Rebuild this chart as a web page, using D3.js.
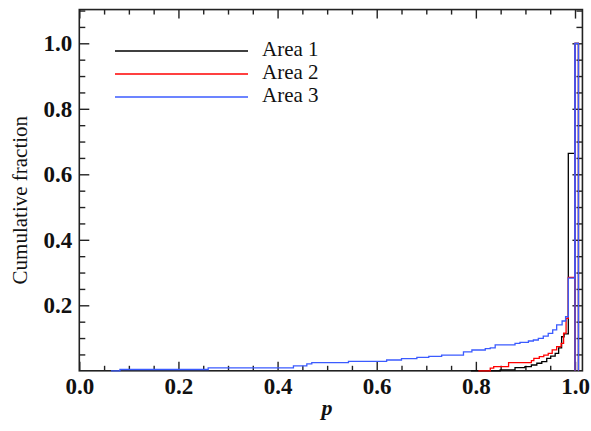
<!DOCTYPE html>
<html>
<head>
<meta charset="utf-8">
<script src="https://cdn.jsdelivr.net/npm/d3@7"></script>
<style>
  html, body { margin: 0; padding: 0; background: #fff; }
  svg { display: block; }
</style>
</head>
<body>
<svg id="chart" width="591" height="431"></svg>
<script>
// ---- data (step edges: [p, cumulative fraction from this p onwards]) ----
const seriesNames = ["Area 1", "Area 2", "Area 3"];
const seriesColors = ["#000000", "#ff0000", "#3b5bff"];

const area1Steps = [
  [0.790, 0.000], [0.849, 0.003], [0.879, 0.0096], [0.899, 0.0125],
  [0.912, 0.0177], [0.923, 0.023], [0.933, 0.028], [0.943, 0.038],
  [0.951, 0.045], [0.960, 0.053], [0.967, 0.070], [0.973, 0.104],
  [0.978, 0.113], [0.9865, 0.664], [1.000, 1.000], [1.007, 0.000]
];
const area2Steps = [
  [0.805, 0.000], [0.829, 0.008], [0.836, 0.013], [0.866, 0.025],
  [0.912, 0.031], [0.917, 0.038], [0.928, 0.043], [0.937, 0.048],
  [0.946, 0.053], [0.954, 0.064], [0.963, 0.074], [0.972, 0.084],
  [0.977, 0.115], [0.982, 0.160], [0.9865, 0.285], [1.000, 1.000],
  [1.007, 0.000]
];
const area3Steps = [
  [0.064, 0.000], [0.082, 0.004], [0.260, 0.009], [0.432, 0.015],
  [0.459, 0.021], [0.469, 0.025], [0.543, 0.029], [0.620, 0.033],
  [0.650, 0.037], [0.681, 0.041], [0.705, 0.044], [0.731, 0.048],
  [0.775, 0.058], [0.792, 0.0635], [0.819, 0.068], [0.829, 0.070],
  [0.839, 0.079], [0.879, 0.084], [0.889, 0.087], [0.906, 0.091],
  [0.916, 0.094], [0.926, 0.099], [0.936, 0.106], [0.946, 0.114],
  [0.955, 0.125], [0.963, 0.140], [0.974, 0.152], [0.981, 0.165],
  [0.9865, 0.283], [1.000, 1.000], [1.007, 0.000]
];
const allSteps = [area1Steps, area2Steps, area3Steps];

const xTickLabels = [0.0, 0.2, 0.4, 0.6, 0.8, 1.0];
const yTickLabels = [0.2, 0.4, 0.6, 0.8, 1.0];
const xDomain = [0, 1.015];
const yDomain = [0, 1.103];

// ---- layout ----
const svg = d3.select("#chart");
const plotLeft = 79.3, plotBottom = 370.8;
const x = d3.scaleLinear().domain(xDomain).range([plotLeft, plotLeft + 495.7 * xDomain[1]]);
const y = d3.scaleLinear().domain(yDomain).range([plotBottom, plotBottom - 327.5 * yDomain[1]]);

const axisColor = "#222";
const serif = "'Liberation Serif', 'Times New Roman', serif";

const xMinor = d3.range(0, 1.0001, 0.05).filter(v => !xTickLabels.some(t => Math.abs(t - v) < 1e-6));
const yMinor = d3.range(0.05, 1.1001, 0.05).filter(v => !yTickLabels.some(t => Math.abs(t - v) < 1e-6));

const x0 = x(xDomain[0]), x1 = x(xDomain[1]);
const y0 = y(yDomain[0]), y1 = y(yDomain[1]);

// frame
svg.append("rect")
  .attr("x", x0).attr("y", y1)
  .attr("width", x1 - x0).attr("height", y0 - y1)
  .attr("fill", "none").attr("stroke", axisColor).attr("stroke-width", 1.6);

function styleTicks(g) {
  g.select(".domain").remove();
  g.selectAll(".tick line").attr("stroke", axisColor).attr("stroke-width", 1.4);
}

// bottom axis
const gB = svg.append("g").attr("transform", `translate(0,${y0})`)
  .call(d3.axisBottom(x).tickValues(xTickLabels).tickSize(-9).tickPadding(7)
    .tickFormat(d3.format(".1f")));
styleTicks(gB);
gB.selectAll("text").attr("font-family", serif).attr("font-weight", "bold")
  .attr("font-size", 23).attr("fill", "#111");
styleTicks(svg.append("g").attr("transform", `translate(0,${y0})`)
  .call(d3.axisBottom(x).tickValues(xMinor).tickSize(-5).tickFormat("")));

// top axis
styleTicks(svg.append("g").attr("transform", `translate(0,${y1})`)
  .call(d3.axisTop(x).tickValues(xTickLabels).tickSize(-9).tickFormat("")));
styleTicks(svg.append("g").attr("transform", `translate(0,${y1})`)
  .call(d3.axisTop(x).tickValues(xMinor).tickSize(-5).tickFormat("")));

// left axis
const gL = svg.append("g").attr("transform", `translate(${x0},0)`)
  .call(d3.axisLeft(y).tickValues(yTickLabels).tickSize(-10).tickPadding(7)
    .tickFormat(d3.format(".1f")));
styleTicks(gL);
gL.selectAll("text").attr("font-family", serif).attr("font-weight", "bold")
  .attr("font-size", 23).attr("fill", "#111");
styleTicks(svg.append("g").attr("transform", `translate(${x0},0)`)
  .call(d3.axisLeft(y).tickValues(yMinor).tickSize(-6).tickFormat("")));

// right axis
styleTicks(svg.append("g").attr("transform", `translate(${x1},0)`)
  .call(d3.axisRight(y).tickValues(yTickLabels).tickSize(-10).tickFormat("")));
styleTicks(svg.append("g").attr("transform", `translate(${x1},0)`)
  .call(d3.axisRight(y).tickValues(yMinor).tickSize(-6).tickFormat("")));

// curves
const line = d3.line().x(d => x(d[0])).y(d => y(d[1])).curve(d3.curveStepAfter);
const straight = d3.line().x(d => x(d[0])).y(d => y(d[1]));
allSteps.forEach((steps, i) => {
  svg.append("path").datum(steps)
    .attr("d", line)
    .attr("fill", "none").attr("stroke", seriesColors[i]).attr("stroke-width", 1.3);
  // left edge of the final bin, down to the baseline
  const lastBin = steps[steps.length - 2];
  svg.append("path").datum([[lastBin[0], 0], lastBin])
    .attr("d", straight)
    .attr("fill", "none").attr("stroke", seriesColors[i]).attr("stroke-width", 1.3);
});

// legend
const legend = svg.append("g");
seriesNames.forEach((name, i) => {
  const ly = 51 + i * 23;
  legend.append("line").attr("x1", 115).attr("x2", 248).attr("y1", ly).attr("y2", ly)
    .attr("stroke", seriesColors[i]).attr("stroke-width", 1.3);
  legend.append("text").attr("x", 262).attr("y", ly + 4.5)
    .attr("font-family", serif).attr("font-size", 21).attr("fill", "#111").text(name);
});

// axis titles
svg.append("text")
  .attr("transform", `translate(27,${(y0 + y1) / 2 + 10}) rotate(-90)`)
  .attr("text-anchor", "middle")
  .attr("font-family", serif).attr("font-size", 21).attr("fill", "#111")
  .text("Cumulative fraction");
svg.append("text")
  .attr("x", 327).attr("y", 415)
  .attr("text-anchor", "middle")
  .attr("font-family", serif).attr("font-style", "italic").attr("font-weight", "bold")
  .attr("font-size", 22).attr("fill", "#111")
  .text("p");
</script>
</body>
</html>
